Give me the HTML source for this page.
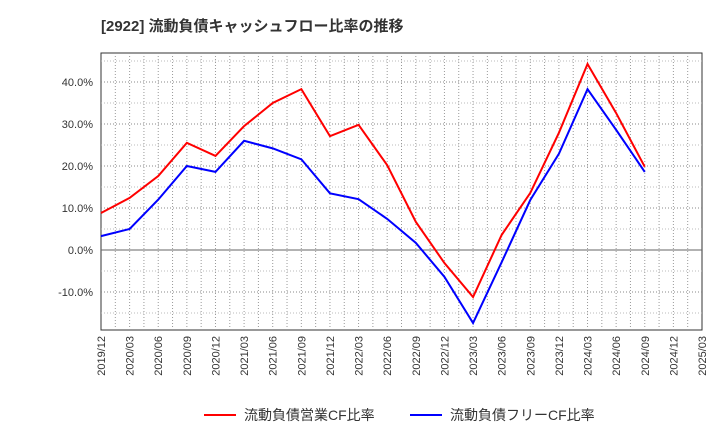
<!DOCTYPE html>
<html><head><meta charset="utf-8"><style>
body{margin:0;background:#fff;}
svg text{font-family:"Liberation Sans","Noto Sans CJK JP",sans-serif;}
</style></head><body>
<svg id="c" width="720" height="440" xmlns="http://www.w3.org/2000/svg">
<text x="101" y="31" font-size="15" font-weight="bold" fill="#333">[2922]  流動負債キャッシュフロー比率の推移</text>
<g id="grid"></g><g id="axes"></g><g id="series"></g>
<g>
<line x1="204" y1="415" x2="236" y2="415" stroke="#f00" stroke-width="2"/>
<text x="244" y="420" font-size="14" fill="#333">流動負債営業CF比率</text>
<line x1="410" y1="415" x2="442" y2="415" stroke="#00f" stroke-width="2"/>
<text x="450" y="420" font-size="14" fill="#333">流動負債フリーCF比率</text>
</g>
</svg>
<script>
const categories=["2019/12","2020/03","2020/06","2020/09","2020/12","2021/03","2021/06","2021/09","2021/12","2022/03","2022/06","2022/09","2022/12","2023/03","2023/06","2023/09","2023/12","2024/03","2024/06","2024/09","2024/12","2025/03"];
const operatingCF=[8.8,12.4,17.6,25.5,22.4,29.5,35,38.3,27.1,29.8,20.2,6.7,-3.1,-11.2,3.6,13.6,27.9,44.3,32.6,19.8];
const freeCF=[3.3,5,12,20,18.6,26,24.2,21.6,13.5,12.1,7.4,1.7,-6.4,-17.4,-2.9,11.9,22.9,38.3,28.6,18.6];
const yTicks=[-10,0,10,20,30,40];
const L=101,R=702,T=53,B=330;
const x=i=>L+i*(R-L)/(categories.length-1);
const y=v=>250-v*4.2;
const ns="http://www.w3.org/2000/svg";
function mk(tag,at,parent){const e=document.createElementNS(ns,tag);for(const k in at)e.setAttribute(k,at[k]);document.getElementById(parent).appendChild(e);return e;}
const bg=mk('rect',{x:L,y:T,width:R-L,height:B-T,fill:'#fff',stroke:'#333'},'grid');


for(let i=1;i<(categories.length-1)*2;i++){const xx=L+i*(R-L)/((categories.length-1)*2);
const g=mk('line',{x1:xx,x2:xx,y1:T,y2:B,stroke:'#999','stroke-dasharray':'1,2'},'grid');

}
for(let v=-15;v<=45;v+=5){if(v===0)continue;const yy=y(v);if(yy<T||yy>B)continue;
const g=mk('line',{x1:L,x2:R,y1:yy,y2:yy,stroke:v%10===0?'#888':'#bbb','stroke-dasharray':'1,2'},'grid');

}
const z=mk('line',{x1:L,x2:R,y1:y(0),y2:y(0),stroke:'#666'},'grid');


yTicks.forEach(v=>{const t=mk('text',{x:L-8,y:y(v)+4,'text-anchor':'end','font-size':11,fill:'#333'},'axes');t.textContent=v.toFixed(1)+'%';

});
categories.forEach((c,i)=>{const t=mk('text',{x:0,y:0,'text-anchor':'end','font-size':11,fill:'#333',transform:`translate(${x(i)+4},${B+6}) rotate(-90)`},'axes');t.textContent=c;

});
[[operatingCF,'#f00','operating-cf-line'],[freeCF,'#00f','free-cf-line']].forEach(([d,col,n])=>{
const p=mk('polyline',{points:d.map((v,i)=>x(i)+','+y(v)).join(' '),fill:'none',stroke:col,'stroke-width':2},'series');

});
</script>
</body></html>
